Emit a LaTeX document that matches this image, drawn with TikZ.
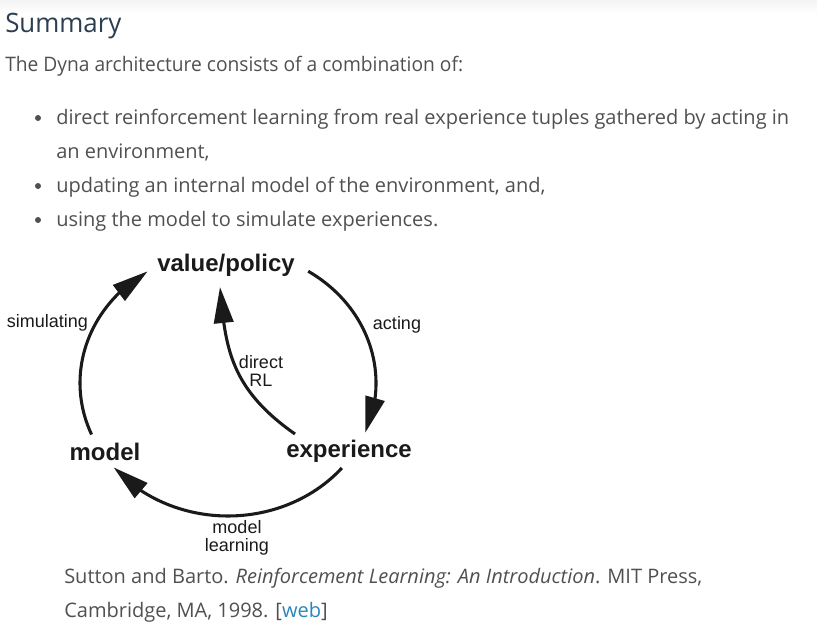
\documentclass[tikz,border=0pt]{standalone}
\usepackage{fontspec}
\setmainfont{Open Sans}
\newfontfamily\figfont{Liberation Sans}
\usetikzlibrary{arrows.meta,bending}
\definecolor{headblue}{HTML}{2C3E50}
\definecolor{bodygray}{HTML}{505050}
\definecolor{linkblue}{HTML}{2A86B8}
\definecolor{figink}{HTML}{1A1A1A}

\tikzset{
  pagetext/.style={anchor=base west,inner sep=0pt,text=bodygray,font=\fontsize{15}{18}\selectfont},
  squeezed/.style={xscale=#1,transform shape},
  dot/.style={circle,fill=bodygray,inner sep=0pt,minimum size=4.5pt},
  state/.style={inner sep=0pt,text=figink,font=\figfont\bfseries\fontsize{18}{20}\selectfont},
  edgelabel/.style={inner sep=0pt,text=figink,align=center,font=\figfont\fontsize{13.5}{14}\selectfont},
  cycle arrow/.style={line width=2.3pt,figink,-{Triangle[length=27pt,width=14.5pt,flex]}},
}

\begin{document}
\begin{tikzpicture}[x=0.75pt,y=0.75pt]
\useasboundingbox (0,0) rectangle (817,-642);
\shade[top color=gray!9,bottom color=white] (0,0) rectangle (817,-14);

% page text
\node[pagetext,squeezed=0.97,text=headblue,font=\fontsize{20}{24}\selectfont] (title) at (5,-33) {Summary};
\node[pagetext,squeezed=0.96] (intro) at (5,-72) {The Dyna architecture consists of a combination of:};
\node[pagetext] (item1) at (56,-124) {direct reinforcement learning from real experience tuples gathered by acting in};
\node[pagetext] (item1b) at (56,-158) {an environment,};
\node[pagetext] (item2) at (56,-192) {updating an internal model of the environment, and,};
\node[pagetext] (item3) at (56,-226) {using the model to simulate experiences.};
\foreach \y/\n in {118/1,186/2,220/3}
  \node[dot] (bullet\n) at (38,-\y) {};

% the Dyna cycle
\coordinate (hub) at (228,-383);
\node[state] (value) at (226,-265) {value/policy};
\node[state] (model) at (105,-452) {model};
\node[state] (experience) at (349,-451) {experience};

\path (hub) ++(202.8:148 and 133) coordinate (sim from);
\path (hub) ++(57.2:148 and 133) coordinate (act from);
\path (hub) ++(-39.7:148 and 133) coordinate (learn from);
\coordinate (rl from) at (295,-434);
\coordinate (rl to) at (220,-287);

\draw[cycle arrow] (sim from) arc[start angle=202.8,end angle=122.9,x radius=148,y radius=133];
\draw[cycle arrow] (act from) arc[start angle=57.2,end angle=-22,x radius=148,y radius=133];
\draw[cycle arrow] (learn from) arc[start angle=-39.7,end angle=-140.6,x radius=148,y radius=133];
\draw[cycle arrow] (rl from) .. controls +(145:80) and +(-85:60) .. (rl to);

\node[edgelabel] (simulating) at (47.5,-323) {simulating};
\node[edgelabel] (acting) at (397,-325) {acting};
\node[edgelabel] (direct rl) at (261,-371) {direct\\RL};
\node[edgelabel] (model learning) at (237,-538) {model\\learning};

% reference
\node[pagetext] (cite1) at (64,-583)
  {Sutton and Barto. \textit{Reinforcement Learning: An Introduction}. MIT Press,};
\node[pagetext] (cite2) at (64,-617)
  {Cambridge, MA, 1998. [\textcolor{linkblue}{web}]};
\end{tikzpicture}
\end{document}
